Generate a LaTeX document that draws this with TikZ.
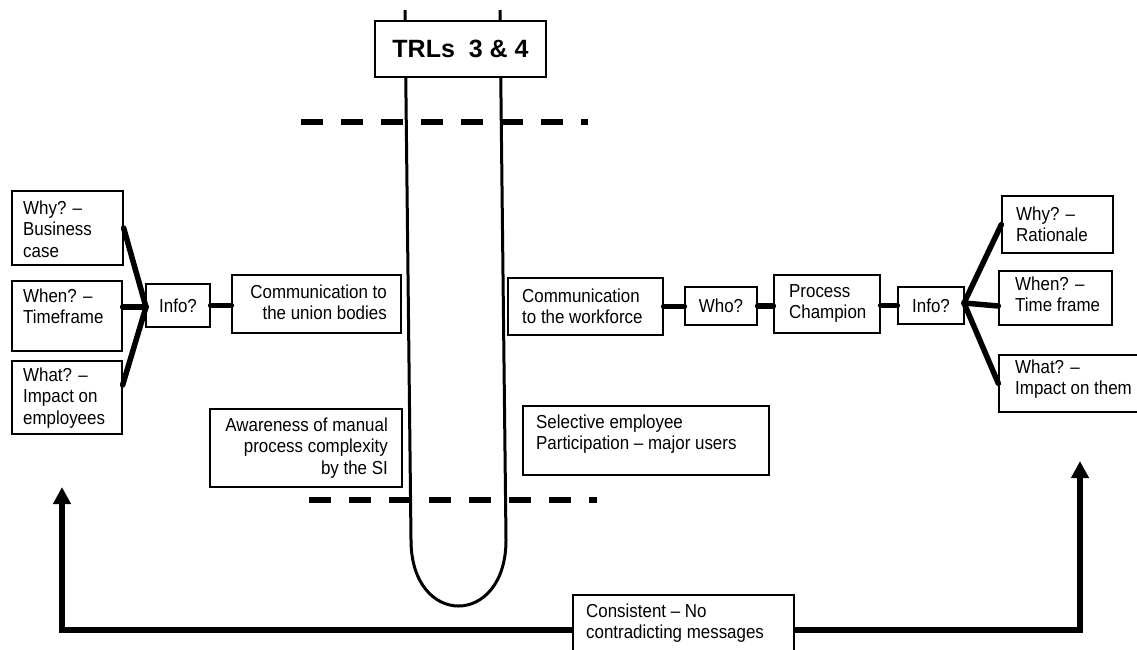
\documentclass[tikz,border=0pt]{standalone}
\usepackage{fontspec}
\setmainfont{Liberation Sans}
\newfontfamily\labfont[FakeStretch=0.9]{Liberation Sans}
\usetikzlibrary{arrows.meta,fit}
\begin{document}
\begin{tikzpicture}[x=1pt,y=-1pt,
  boxst/.style={draw, line width=1.3pt, fill=white, inner sep=0pt},
  txt/.style={inner sep=0pt, font=\labfont\fontsize{18.8}{21.5}\selectfont, align=left},
  txtr/.style={inner sep=0pt, font=\labfont\fontsize{18.8}{21.5}\selectfont, align=right},
  link/.style={line width=5.5pt, line cap=round},
  tube/.style={line width=3pt},
  cut/.style={line width=5.5pt, dash pattern=on 22pt off 18pt},
  fb/.style={line width=5.5pt, -{Triangle[width=17pt,length=17pt]}}
]
\useasboundingbox (0,0) rectangle (1137,649);
\newcommand\mybox[5]{\node[boxst, fit={(#2,#3) (#4,#5)}] (#1) {};}

% tube
\draw[tube] (405,10) -- (411,540) .. controls (411,628) and (506,628) .. (506,540) -- (500,10);
\mybox{trl}{375}{21}{546}{77}
\node[inner sep=0pt, font=\bfseries\fontsize{25}{30}\selectfont] (trl-t) at (trl.center) {TRLs\ \ 3 \& 4};

% dashed limits
\coordinate (d1a) at (301,122); \coordinate (d1b) at (588,122);
\coordinate (d2a) at (309,500); \coordinate (d2b) at (597,500);
\draw[cut] (d1a) -- (d1b);
\draw[cut] (d2a) -- (d2b);

% left side
\mybox{why}{12}{191}{123}{265}
\node[txt, anchor=north west] (why-t) at (23,199) {\strut Why? –\\Business\\case};
\mybox{when}{12}{281}{122}{351}
\node[txt, anchor=north west] (when-t) at (23,287) {\strut When? –\\Timeframe};
\mybox{what}{12}{361}{122}{434}
\node[txt, anchor=north west] (what-t) at (23,366) {\strut What? –\\Impact on\\employees};
\mybox{infoL}{146}{284}{210}{327}
\node[txt] (infoL-t) at (infoL.center) {Info?};
\mybox{commU}{232}{275}{401}{333}
\node[txtr, anchor=north east] (commU-t) at (387,283) {\strut Communication to\\the union bodies};
\mybox{aware}{210}{409}{402}{487}
\node[txtr, anchor=north east] (aware-t) at (388,416) {\strut Awareness of manual\\process complexity\\by the SI};

% right side
\mybox{commW}{508}{278}{663}{335}
\node[txt, anchor=north west] (commW-t) at (522,287) {\strut Communication\\to the workforce};
\mybox{who}{685}{287}{757}{325}
\node[txt] (who-t) at (who.center) {Who?};
\mybox{champ}{774}{275}{880}{333}
\node[txt, anchor=north west] (champ-t) at (789,282) {\strut Process\\Champion};
\mybox{infoR}{898}{287}{964}{324}
\node[txt] (infoR-t) at (infoR.center) {Info?};
\mybox{whyR}{1002}{196}{1113}{253}
\node[txt, anchor=north west] (whyR-t) at (1016,205) {\strut Why? –\\Rationale};
\mybox{whenR}{999}{271}{1112}{325}
\node[txt, anchor=north west] (whenR-t) at (1015,275) {\strut When? –\\Time frame};
\mybox{whatR}{999}{355}{1145}{412}
\node[txt, anchor=north west] (whatR-t) at (1015,358) {\strut What? –\\Impact on them};
\mybox{sel}{523}{406}{769}{475}
\node[txt, anchor=north west] (sel-t) at (536,413) {\strut Selective employee\\Participation – major users};

% connectors left
\coordinate (jl) at (146,307);
\draw[link] (why.east) -- (jl);
\draw[link] (when.east |- jl) -- (jl);
\draw[link] ([yshift=12.5pt]what.east) -- (jl);
\draw[link] (infoL.east) -- (infoL.east -| commU.west);

% connectors right
\coordinate (jr) at (964,303);
\draw[link] (commW.east) -- (commW.east -| who.west);
\draw[link] (who.east) -- (who.east -| champ.west);
\draw[link] (infoR.west -| champ.east) -- (infoR.west);
\draw[link] (jr) -- (whyR.west);
\draw[link] (jr) -- ([yshift=-8pt]whenR.west);
\draw[link] (jr) -- (whatR.west);

% feedback
\mybox{cons}{573}{595}{794}{665}
\node[txt, anchor=north west] (cons-t) at (586,602) {\strut Consistent – No\\contradicting messages};
\coordinate (al) at (62,487);
\coordinate (ar) at (1080,461);
\draw[fb] (cons.west) -| (al);
\draw[fb] (cons.east) -| (ar);
\end{tikzpicture}
\end{document}
